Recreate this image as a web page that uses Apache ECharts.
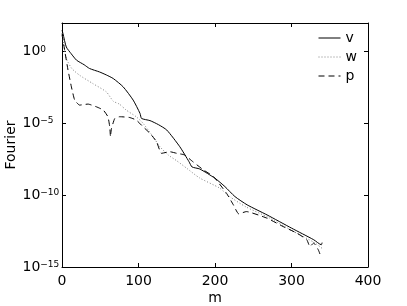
<!DOCTYPE html>
<html><head><meta charset="utf-8">
<script src="https://cdn.jsdelivr.net/npm/echarts@6/dist/echarts.min.js"></script>
<style>html,body{margin:0;padding:0;background:#fff}#c{width:407px;height:306px}</style>
</head><body><div id="c"></div>
<script>
// y values are given as log10 of the Fourier coefficient
var xTicks = [0, 100, 200, 300, 400];
var yTicksLog10 = [0, -5, -10, -15];
var seriesNames = ['v', 'w', 'p'];

var mV = [0, 1.3, 5.6, 12, 19, 29, 36, 49, 58, 67, 80, 93, 102, 104, 115, 126, 137, 154, 166, 170, 180, 200, 213, 226, 242, 268, 300, 329, 339, 340];
var vLog10 = [1.5, 1.26, 0.33, -0.14, -0.59, -0.91, -1.17, -1.41, -1.62, -1.87, -2.45, -3.37, -4.30, -4.65, -4.80, -5.08, -5.46, -6.62, -7.66, -8.03, -8.17, -8.82, -9.40, -10.09, -10.67, -11.37, -12.29, -13.10, -13.45, -13.3];

var mW = [0, 1.3, 2, 5.7, 12.8, 23, 40, 58, 67, 75, 84, 97, 106, 119, 128, 139, 150, 163, 180, 206, 219, 240, 270, 300, 330, 340];
var wLog10 = [1.3, 0.80, 0.57, -0.48, -1.17, -1.64, -2.21, -2.80, -3.45, -3.65, -4.07, -4.53, -4.99, -5.92, -6.62, -7.20, -7.60, -8.12, -8.8, -9.5, -10.09, -10.8, -11.55, -12.45, -13.3, -13.7];

var mP = [0, 3.5, 7.9, 12.3, 16.6, 23, 34, 45, 54, 60, 62.4, 63.4, 64.5, 69, 75.5, 88, 97, 106, 115, 123.6, 130, 141, 150, 160, 171, 185, 198, 215, 224, 231, 241, 268, 289, 307, 320, 324, 329, 335, 339];
var pLog10 = [1.2, 0.1, -1.29, -2.45, -3.37, -3.72, -3.65, -3.84, -4.07, -4.53, -5.23, -5.92, -5.4, -4.65, -4.53, -4.58, -4.76, -5.23, -5.69, -6.27, -7.08, -6.97, -7.08, -7.19, -7.66, -8.24, -8.70, -9.86, -10.67, -11.3, -11.14, -11.6, -12.18, -12.64, -13.1, -13.57, -13.33, -13.8, -14.35];

function pairs(xs, ys) { return xs.map(function (x, i) { return [x, ys[i]]; }); }

var FONT = 'DejaVu Sans';
var chart = echarts.init(document.getElementById('c'), null, {renderer: 'canvas'});
var axisLineStyle = {color: '#000', width: 1};
chart.setOption({
  animation: false,
  backgroundColor: '#fff',
  textStyle: {fontFamily: FONT},
  grid: {left: 62, right: 39, top: 23, bottom: 39, containLabel: false, outerBoundsMode: 'none'},
  legend: {
    orient: 'vertical', left: 318, top: 31, padding: 0, itemWidth: 22, itemHeight: 14, itemGap: 5,
    data: seriesNames,
    textStyle: {fontFamily: FONT, fontSize: 14, color: '#000'},
    lineStyle: {width: 1},
    itemStyle: {opacity: 0}
  },
  xAxis: [{
    type: 'value', min: xTicks[0], max: xTicks[xTicks.length - 1], interval: 100, position: 'bottom',
    name: 'm', nameLocation: 'middle', nameGap: 24, nameMoveOverlap: false,
    nameTextStyle: {fontFamily: FONT, fontSize: 14, color: '#000'},
    axisLine: {show: true, onZero: false, lineStyle: axisLineStyle},
    axisTick: {show: true, inside: true, length: 4, lineStyle: axisLineStyle},
    axisLabel: {fontFamily: FONT, fontSize: 14, color: '#000', margin: 7},
    splitLine: {show: false}
  }, {
    type: 'value', min: xTicks[0], max: xTicks[xTicks.length - 1], interval: 100, position: 'top',
    axisLine: {show: true, onZero: false, lineStyle: axisLineStyle},
    axisTick: {show: true, inside: true, length: 4, lineStyle: axisLineStyle},
    axisLabel: {show: false}, splitLine: {show: false}
  }],
  yAxis: [{
    type: 'value', min: -15, max: 2, interval: 5, position: 'left',
    name: 'Fourier', nameLocation: 'middle', nameGap: 44, nameRotate: 90, nameMoveOverlap: false,
    nameTextStyle: {fontFamily: FONT, fontSize: 14, color: '#000'},
    axisLine: {show: true, onZero: false, lineStyle: axisLineStyle},
    axisTick: {show: true, inside: true, length: 4, lineStyle: axisLineStyle},
    axisLabel: {
      margin: 39.5, align: 'left', showMaxLabel: false,
      formatter: function (v) {
        if (yTicksLog10.indexOf(v) < 0) return '';
        var e = v < 0 ? '\u2212' + (-v) : String(v);
        return '{a|10}{b|' + e + '}';
      },
      rich: {
        a: {fontFamily: FONT, fontSize: 14, color: '#000', lineHeight: 14},
        b: {fontFamily: FONT, fontSize: 9, color: '#000', lineHeight: 9, verticalAlign: 'top'}
      }
    },
    splitLine: {show: false}
  }, {
    type: 'value', min: -15, max: 2, interval: 5, position: 'right',
    axisLine: {show: true, onZero: false, lineStyle: axisLineStyle},
    axisTick: {show: true, inside: true, length: 4, lineStyle: axisLineStyle},
    axisLabel: {show: false}, splitLine: {show: false}
  }],
  series: [{
    name: 'v', type: 'line', data: pairs(mV, vLog10), symbol: 'none', smooth: 0.2,
    lineStyle: {color: '#000', width: 1, type: 'solid'}, itemStyle: {color: '#000'}
  }, {
    name: 'w', type: 'line', data: pairs(mW, wLog10), symbol: 'none', smooth: 0.2,
    lineStyle: {color: '#808080', width: 1, type: [1, 2]}, itemStyle: {color: '#808080'}
  }, {
    name: 'p', type: 'line', data: pairs(mP, pLog10), symbol: 'none', smooth: 0.15,
    lineStyle: {color: '#000', width: 1, type: [6, 4]}, itemStyle: {color: '#000'}
  }]
});
</script></body></html>
